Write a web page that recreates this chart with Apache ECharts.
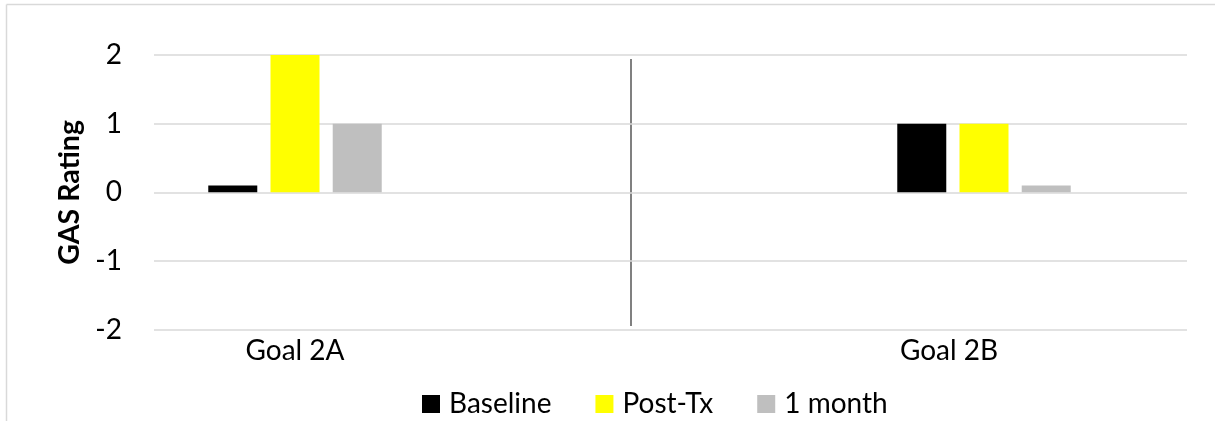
<!DOCTYPE html>
<html>
<head>
<meta charset="utf-8">
<script src="https://cdn.jsdelivr.net/npm/echarts@6/dist/echarts.min.js"></script>
<style>
html,body{margin:0;padding:0;background:#fff;}
#chart{width:1215px;height:421px;}
</style>
</head>
<body>
<div id="chart"></div>
<script>
const categories = ['Goal 2A', 'Goal 2B'];
const seriesNames = ['Baseline', 'Post-Tx', '1 month'];
const baseline = [0.1, 1];
const postTx = [2, 1];
const oneMonth = [1, 0.1];
const yTicks = [-2, -1, 0, 1, 2];

const colors = ['#000000', '#FFFF00', '#BFBFBF'];
const values = [baseline, postTx, oneMonth];
const FONT = 'Lato';

const chart = echarts.init(document.getElementById('chart'));

const series = [];
[0, 1].forEach(function (g) {
  values.forEach(function (arr, i) {
    series.push({
      name: seriesNames[i],
      type: 'bar',
      xAxisIndex: g + 1,
      yAxisIndex: g + 1,
      data: [arr[g]],
      barWidth: 49,
      barGap: '27%',
      itemStyle: { color: colors[i] },
      emphasis: { disabled: true },
      animation: false
    });
  });
});

const hiddenY = {
  type: 'value', min: yTicks[0], max: yTicks[yTicks.length - 1], interval: 1,
  show: false
};

chart.setOption({
  animation: false,
  backgroundColor: '#ffffff',
  textStyle: { fontFamily: FONT },
  grid: [
    { left: 154, right: 28, top: 55, bottom: 91.3 },
    { left: 154, width: 282, top: 55, bottom: 91.3 },
    { left: 781, width: 406, top: 55, bottom: 91.3 }
  ],
  xAxis: [
    { gridIndex: 0, type: 'category', data: [''], show: false },
    {
      gridIndex: 1, type: 'category', data: [categories[0]],
      axisLine: { show: false }, axisTick: { show: false },
      axisLabel: { fontFamily: FONT, fontSize: 28, color: '#000', margin: 7 }
    },
    {
      gridIndex: 2, type: 'category', data: [categories[1]],
      axisLine: { show: false }, axisTick: { show: false },
      axisLabel: { fontFamily: FONT, fontSize: 28, color: '#000', margin: 7, padding: [0, 70, 0, 0] }
    }
  ],
  yAxis: [
    {
      gridIndex: 0, type: 'value', min: yTicks[0], max: yTicks[yTicks.length - 1], interval: 1,
      name: 'GAS Rating', nameLocation: 'middle', nameGap: 64, nameRotate: 90,
      nameTextStyle: { fontFamily: FONT, fontSize: 28.5, fontWeight: 'bold', color: '#000' },
      axisLine: { show: false }, axisTick: { show: false },
      axisLabel: { fontFamily: FONT, fontSize: 28, color: '#000', margin: 32 },
      splitLine: { lineStyle: { color: '#d9d9d9', width: 1.5 } }
    },
    Object.assign({ gridIndex: 1 }, hiddenY),
    Object.assign({ gridIndex: 2 }, hiddenY)
  ],
  legend: {
    left: 422, top: 390, padding: 0,
    itemWidth: 18, itemHeight: 18, itemGap: 44,
    icon: 'rect',
    data: seriesNames,
    textStyle: { fontFamily: FONT, fontSize: 28, color: '#000', padding: [0, 0, 0, 4] },
    selectedMode: false
  },
  graphic: [
    { type: 'line', shape: { x1: 6.5, y1: 4.5, x2: 1215, y2: 4.5 }, style: { stroke: '#d9d9d9', lineWidth: 1.5 }, silent: true },
    { type: 'line', shape: { x1: 6.5, y1: 4.5, x2: 6.5, y2: 421 }, style: { stroke: '#d9d9d9', lineWidth: 1.5 }, silent: true },
    { type: 'line', shape: { x1: 631, y1: 59, x2: 631, y2: 326 }, style: { stroke: '#808080', lineWidth: 2 }, silent: true }
  ],
  series: series
});
</script>
</body>
</html>
